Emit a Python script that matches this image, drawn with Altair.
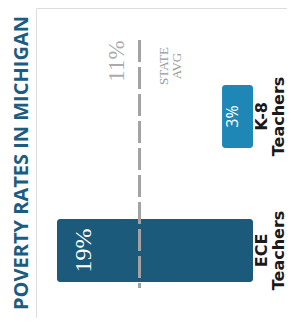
import altair as alt
import pandas as pd

# Data
categories = ["ECE Teachers", "K-8 Teachers"]
cat_labels = ["ECE\nTeachers", "K-8\nTeachers"]
rates = [19, 3]
rate_labels = ["19%", "3%"]
state_avg = [11]
state_avg_label = ["11%"]
state_avg_text = ["STATE\nAVG"]
bar_colors = ["#1b5a7b", "#1e87b6"]

df = pd.DataFrame({"cat": categories, "label": cat_labels, "rate": rates, "rlabel": rate_labels})
avg_df = pd.DataFrame({"avg": state_avg, "alabel": state_avg_label, "atext": state_avg_text})

x_scale = alt.Scale(domain=[-3.296, 21.035], reverse=True, zero=False, nice=False)
y_scale = alt.Scale(domain=["K-8 Teachers", "ECE Teachers"], paddingInner=0.53,
                    paddingOuter=0.4216, align=0.681)

base = alt.Chart(df)

bars = base.mark_bar(cornerRadius=3).encode(
    x=alt.X("rate:Q", scale=x_scale, axis=None),
    x2=alt.datum(0),
    y=alt.Y("cat:N", scale=y_scale, axis=None),
    color=alt.Color("cat:N", scale=alt.Scale(domain=categories, range=bar_colors), legend=None),
)

val_big = base.transform_filter(alt.datum.cat == "ECE Teachers").mark_text(
    angle=270, align="center", baseline="middle", dy=27.5,
    font="Liberation Serif", fontSize=24, color="white",
).encode(x=alt.X("rate:Q", scale=x_scale), y=alt.Y("cat:N", scale=y_scale), text="rlabel:N")

val_small = base.transform_filter(alt.datum.cat == "K-8 Teachers").mark_text(
    angle=270, align="center", baseline="middle", dy=10.5,
    font="Open Sans", fontSize=16, color="white",
).encode(x=alt.X("rate:Q", scale=x_scale), y=alt.Y("cat:N", scale=y_scale), text="rlabel:N")

cat_text = base.mark_text(
    angle=270, align="center", baseline="middle", dy=9, lineBreak="\n", lineHeight=17,
    font="DejaVu Sans", fontWeight="bold", fontSize=16, color="#1a1a1a",
).encode(x=alt.datum(0), y=alt.Y("cat:N", scale=y_scale), text="label:N")

avg = alt.Chart(avg_df)

rule = avg.mark_rule(strokeDash=[22, 5], strokeWidth=3, color="#a3a3a3").encode(
    x=alt.X("avg:Q", scale=x_scale),
    y=alt.value(32),
    y2=alt.value(280),
)

avg_num = avg.mark_text(
    angle=270, align="center", baseline="middle", dy=-23,
    font="Liberation Serif", fontSize=23, color="#ababab",
).encode(x=alt.X("avg:Q", scale=x_scale), y=alt.value(53), text="alabel:N")

avg_txt = avg.mark_text(
    angle=270, align="center", baseline="middle", dy=24.5, lineBreak="\n", lineHeight=13,
    font="Liberation Serif", fontSize=13, color="#9b9b9b",
).encode(x=alt.X("avg:Q", scale=x_scale), y=alt.value(58), text="atext:N")

chart = alt.layer(bars, rule, val_big, val_small, cat_text, avg_num, avg_txt).properties(
    width=251,
    height=310,
    padding={"left": 28, "top": 0, "right": 0, "bottom": 0},
    autosize="none",
    title=alt.TitleParams(
        "POVERTY RATES IN MICHIGAN", orient="left", anchor="middle",
        font="Open Sans", fontSize=20, fontWeight="bold", color="#1c5c80", offset=4,
    ),
).configure_view(stroke=None).configure(background="white")

chart.save("out.html", embed_options={"renderer": "svg", "actions": False})
